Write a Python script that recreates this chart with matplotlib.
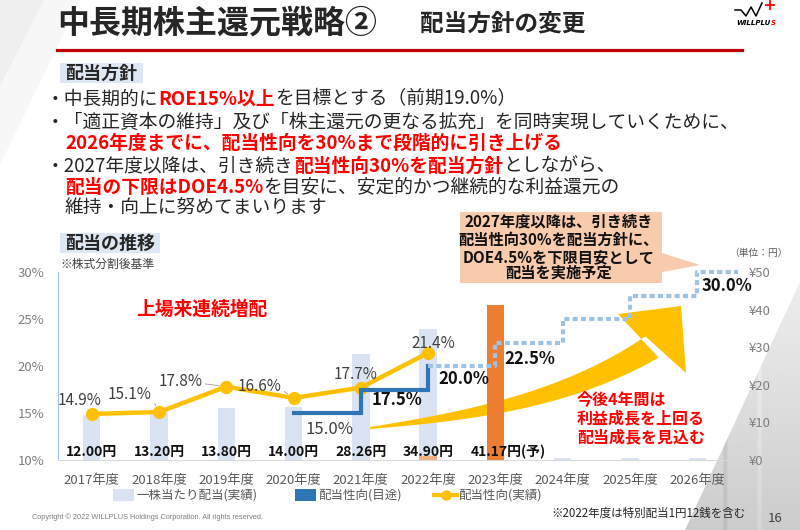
import matplotlib
matplotlib.use("Agg")
import matplotlib.pyplot as plt
import numpy as np
from matplotlib.patches import Polygon, Rectangle
from matplotlib.ticker import FuncFormatter

plt.rcParams["font.family"] = ["Noto Sans CJK JP", "DejaVu Sans"]

# ---- data ----
years = ["2017年度", "2018年度", "2019年度", "2020年度", "2021年度",
         "2022年度", "2023年度", "2024年度", "2025年度", "2026年度"]
dividend = [12.00, 13.20, 13.80, 14.00, 28.26, 34.90, 41.17, 0.4, 0.4, 0.4]
dividend_text = ["12.00円", "13.20円", "13.80円", "14.00円", "28.26円", "34.90円", "41.17円(予)"]
special_2022 = 1.12
payout_actual = [14.9, 15.1, 17.8, 16.6, 17.7, 21.4]      # 2017-2022
payout_target = [15.0, 17.5, 20.0]                       # 2020-2022
payout_plan = [20.0, 22.5, 25.0, 27.5, 30.0]             # 2022-2026
legend_labels = ["一株当たり配当(実績)", "配当性向(目途)", "配当性向(実績)"]

LIGHT = "#dae3f3"
ORANGE = "#ed7d31"
YELLOW = "#ffc000"
BLUE = "#2e75b6"
DOTBLUE = "#9dc3e6"
RED = "#ff0000"
DARK = "#262626"
GRAY = "#595959"

W, H = 800, 530
fig = plt.figure(figsize=(8, 5.3), dpi=100)


def pixel_axes(z):
    a = fig.add_axes([0, 0, 1, 1], zorder=z)
    a.set_xlim(0, W)
    a.set_ylim(H, 0)
    a.axis("off")
    return a


bg = pixel_axes(-1)
ov = pixel_axes(5)
renderer = fig.canvas.get_renderer()

# ---- background decoration ----
bg.add_patch(Polygon([(0, 0), (80, 0), (0, 165)], color="#f7f7f7", lw=0))
bg.add_patch(Polygon([(0, 0), (44, 0), (0, 86)], color="#efefef", lw=0))
bld = Polygon([(800, 282), (800, 530), (685, 530)], transform=bg.transData)
shade = np.linspace(0.93, 0.80, 120)[:, None] * np.ones((1, 60))
shade[:, 20:22] -= 0.06
shade[:, 38:40] += 0.04
im = bg.imshow(shade, cmap="gray", vmin=0, vmax=1, extent=(685, 800, 530, 282),
               aspect="auto", interpolation="bilinear")
im.set_clip_path(bld)
bg.set_xlim(0, W)
bg.set_ylim(H, 0)

# ---- chart ----
rect = [58 / W, 1 - 460 / H, (731 - 58) / W, (460 - 272) / H]
ax = fig.add_axes(rect)
ax2 = ax.twinx()
ax.set_zorder(ax2.get_zorder() + 1)
ax.patch.set_visible(False)
ax2.patch.set_visible(False)

x = np.arange(len(years))
light_idx = [i for i in x if i != 6]
ax2.bar([x[i] for i in light_idx], [dividend[i] for i in light_idx],
        width=0.26, color=LIGHT, zorder=1)
ax2.bar(5, special_2022, width=0.26, color="#f4b183", zorder=1.2)
ax2.bar(6, dividend[6], width=0.26, color=ORANGE, zorder=3)

# big growth arrow (pixel space, sits between light bars and the orange bar)
p0, p1, p2, p3 = map(np.array, [(370, 428), (470, 416), (567, 400), (652, 347)])
t = np.linspace(0, 1, 60)[:, None]
c = (1 - t) ** 3 * p0 + 3 * (1 - t) ** 2 * t * p1 + 3 * (1 - t) * t ** 2 * p2 + t ** 3 * p3
d = 3 * (1 - t) ** 2 * (p1 - p0) + 6 * (1 - t) * t * (p2 - p1) + 3 * t ** 2 * (p3 - p2)
d = d / np.linalg.norm(d, axis=1, keepdims=True)
nrm = np.column_stack([d[:, 1], -d[:, 0]])
half = (2 + 23 * t) / 2
upper = c - nrm * half
lower = c + nrm * half
head = [(618, 314), (681, 306), (686, 373)]
arrow_pts = np.vstack([upper, head, lower[::-1]])
ax2.add_patch(Polygon(arrow_pts, closed=True, color=YELLOW, lw=0,
                      transform=ov.transData, zorder=2, clip_on=False))

ax.plot(x[:6], payout_actual, color=YELLOW, lw=3.2, marker="o", ms=8.5, zorder=3)
ax.plot(x[3:6], payout_target, drawstyle="steps-post", color=BLUE, lw=3,
        zorder=4, solid_joinstyle="miter")
plan_x = list(x[5:]) + [9.6]
plan_y = payout_plan + [payout_plan[-1]]
ax.plot(plan_x, plan_y, drawstyle="steps-post", color=DOTBLUE, lw=3,
        ls=(0, (1.2, 0.8)), dash_capstyle="butt", clip_on=False, zorder=4)

ax.set_xlim(-0.5, 9.5)
ax.set_ylim(10, 30)
ax.set_yticks([10, 15, 20, 25, 30])
ax.yaxis.set_major_formatter(FuncFormatter(lambda v, p: f"{v:.0f}%"))
ax2.set_ylim(0, 50)
ax2.set_yticks(range(0, 51, 10))
ax2.yaxis.set_major_formatter(FuncFormatter(lambda v, p: f"¥{v:.0f}"))
ax.set_xticks(x)
ax.set_xticklabels(years)
ax.tick_params(axis="x", length=0, pad=10, labelsize=9.5, labelcolor=GRAY)
ax.tick_params(axis="y", length=0, pad=10, labelsize=9.5, labelcolor="#7f7f7f")
ax2.tick_params(axis="y", length=0, pad=13, labelsize=9.5, labelcolor="#7f7f7f")
for s in ["top", "right"]:
    ax.spines[s].set_visible(False)
ax.spines["left"].set_color(DOTBLUE)
ax.spines["left"].set_linewidth(0.8)
ax.spines["bottom"].set_color("#d9d9d9")
for s in ax2.spines.values():
    s.set_visible(False)

# payout (actual) labels
act_offsets = [(-9, 10), (-21, 12.5), (-33, 3.5), (-24.5, 8.5), (-3.5, 9.8), (3.5, 7)]
leaders = {1: (1, 0.3), 2: (1, 0.4), 3: (1, 0.3)}
for i, (v, off) in enumerate(zip(payout_actual, act_offsets)):
    kw = {}
    if i in leaders:
        kw["arrowprops"] = dict(arrowstyle="-", color="#a6a6a6", lw=0.7,
                                shrinkA=0, shrinkB=5, relpos=leaders[i])
    ax.annotate(f"{v:.1f}%", (x[i], v), xytext=off, textcoords="offset points",
                ha="center", va="center", fontsize=11, color="#404040", zorder=6, **kw)

# payout (target / plan) labels
tgt_vals = payout_target + payout_plan[1:2] + payout_plan[-1:]
tgt_anchor = [3.53, 4.54, 5.53, 6.51, 9.44]
tgt_dy = [-12, -7.5, -9.4, -12, -10]
for k, (v, xa, dy) in enumerate(zip(tgt_vals, tgt_anchor, tgt_dy)):
    ax.annotate(f"{v:.1f}%", (xa, v), xytext=(0, dy), textcoords="offset points",
                ha="center", va="center", fontsize=12,
                fontweight="normal" if k == 0 else "bold",
                color="#404040" if k == 0 else "#111111", zorder=6,
                annotation_clip=False)

# dividend labels
xt = ax.get_xaxis_transform()
for i, s in enumerate(dividend_text):
    if i == 6:
        ax.text(x[i] - 0.36, 0.045, s, transform=xt, ha="left", va="center",
                fontsize=10, fontweight="bold", color="#111111", zorder=6)
    else:
        ax.text(x[i], 0.045, s, transform=xt, ha="center", va="center",
                fontsize=10, fontweight="bold", color="#111111", zorder=6)

# legend, laid out by hand below the year labels
LEG_Y = 495
ov.add_patch(Rectangle((113, LEG_Y - 6), 21, 12, color=LIGHT, lw=0))
ov.text(136, LEG_Y, legend_labels[0], fontsize=9, color=GRAY, va="center")
ov.add_patch(Rectangle((295, LEG_Y - 6), 21, 12, color=BLUE, lw=0))
ov.text(318, LEG_Y, legend_labels[1], fontsize=9, color=GRAY, va="center")
ov.plot([434, 457], [LEG_Y, LEG_Y], color=YELLOW, lw=3)
ov.plot([445.5], [LEG_Y], marker="o", ms=6.5, color=YELLOW)
ov.text(458, LEG_Y, legend_labels[2], fontsize=9, color=GRAY, va="center")

# ---- slide texts ----
ov.text(57, 24, "中長期株主還元戦略②", fontsize=23, fontweight="bold", color=DARK, va="center")
ov.text(420, 24, "配当方針の変更", fontsize=17, fontweight="bold", color=DARK, va="center")
ov.plot([57, 742], [50, 50], color="#c00000", lw=2.3)

# logo
ov.plot([735, 741, 746, 751, 756, 762], [10, 10, 16, 7, 16, 3], color="black", lw=1.1)
ov.plot([766, 774], [5, 5], color=RED, lw=1.3)
ov.plot([770, 770], [1, 9], color=RED, lw=1.3)
lg = ov.text(736, 23, "WILLPLU", fontsize=5, fontweight="bold", style="italic",
             ha="left", va="center", color="black", family="DejaVu Sans")
lg_w = lg.get_window_extent(renderer=renderer).width
ov.text(736 + lg_w + 0.5, 23, "S", fontsize=5, fontweight="bold", style="italic",
        ha="left", va="center", color=RED, family="DejaVu Sans")

ov.add_patch(Rectangle((60, 63), 83, 20, color="#dde8f4", lw=0))
ov.text(65, 73, "配当方針", fontsize=13, fontweight="bold", color=DARK, va="center")
ov.add_patch(Rectangle((60, 233), 100, 20, color="#dde8f4", lw=0))
ov.text(65, 243, "配当の推移", fontsize=13, fontweight="bold", color=DARK, va="center")
ov.text(60, 264, "※株式分割後基準", fontsize=8.5, color="#404040", va="center")


def draw_runs(x0, y0, runs, size=13.5):
    xx = x0
    for s, col, wt in runs:
        tx = ov.text(xx, y0, s, fontsize=size, color=col, fontweight=wt, va="center")
        xx += tx.get_window_extent(renderer=renderer).width


N, B = "normal", "bold"
draw_runs(46, 99, [("・中長期的に", DARK, N), ("ROE15%以上", RED, B),
                   ("を目標とする（前期19.0%）", DARK, N)])
draw_runs(46, 122, [("・「適正資本の維持」及び「株主還元の更なる拡充」を同時実現していくために、", DARK, N)])
draw_runs(65, 143, [("2026年度までに、配当性向を30%まで段階的に引き上げる", RED, B)])
draw_runs(46, 166, [("・2027年度以降は、引き続き", DARK, N), ("配当性向30%を配当方針", RED, B),
                    ("としながら、", DARK, N)])
draw_runs(65, 187, [("配当の下限はDOE4.5%", RED, B),
                    ("を目安に、安定的かつ継続的な利益還元の", DARK, N)])
draw_runs(65, 207, [("維持・向上に努めてまいります", DARK, N)])

# callout
ov.add_patch(Polygon([(460, 212), (662, 212), (662, 253), (700, 265), (662, 272),
                      (662, 283), (460, 283)], color="#f8cbad", lw=0))
for yy, s in zip([222, 240, 257, 273], ["2027年度以降は、引き続き", "配当性向30%を配当方針に、",
                                        "DOE4.5%を下限目安として", "配当を実施予定"]):
    ov.text(559, yy, s, fontsize=11, fontweight="bold", color="#111111",
            ha="center", va="center")

ov.text(202, 309, "上場来連続増配", fontsize=13.5, fontweight="bold", color=RED,
        ha="center", va="center")
for yy, s in zip([399, 418, 437], ["今後4年間は", "利益成長を上回る", "配当成長を見込む"]):
    ov.text(577, yy, s, fontsize=11.5, fontweight="bold", color=RED, va="center")
ov.text(758, 253, "（単位：円）", fontsize=7, color=GRAY, ha="center", va="center")

ov.text(32, 517, "Copyright © 2022 WILLPLUS Holdings Corporation. All rights reserved.",
        fontsize=5.3, color="#7f7f7f", va="center", family="Liberation Sans")
ov.text(551, 513, "※2022年度は特別配当1円12銭を含む", fontsize=8.3, color=DARK, va="center")
ov.text(775, 518, "16", fontsize=9.5, color="#404040", ha="center", va="center")

fig.savefig("out.png", dpi=100)
